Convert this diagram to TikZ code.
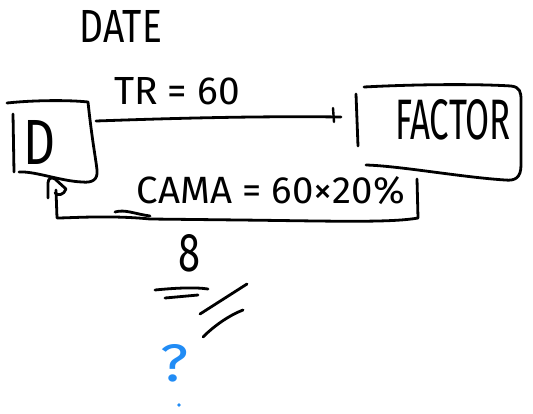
\documentclass[tikz,border=0pt]{standalone}
\usepackage{fontspec}
\setmainfont{Fira Sans}
\usepackage{graphicx}
\definecolor{inkblue}{RGB}{33,140,245}
\tikzset{
  pen/.style={line width=2.8pt, line cap=round, line join=round, black},
  word/.style={inner sep=0pt, anchor=center},
}
\begin{document}
\begin{tikzpicture}[x=1pt,y=-1pt]
\useasboundingbox (0,0) rectangle (533,413);

% heading
\node[word] (date) at (121,26) {\resizebox{82pt}{32pt}{DATE}};

% client box "D"
\node[word] (client) at (40,142) {\resizebox{32pt}{44pt}{D}};
\draw[pen] (7,103) .. controls (35,100) and (70,100) .. (88,102)
  .. controls (92,140) and (96,160) .. (97,170)
  .. controls (98,180) and (92,183) .. (82,182)
  .. controls (60,181) and (35,171) .. (19,172);
\draw[pen] (13,114) -- (14,172);

% factor box
\node[word] (factor) at (453,120) {\resizebox{116pt}{40pt}{FACTOR}};
\draw[pen] (364,87) .. controls (420,84) and (480,84) .. (511,86)
  .. controls (520,87) and (521,92) .. (521,100)
  -- (521,165)
  .. controls (521,178) and (515,181) .. (505,180)
  .. controls (460,177) and (400,166) .. (366,165);
\draw[pen] (356,94) -- (358,146);

% arrow from client to factor
\coordinate (out) at (96,121);
\coordinate (in) at (341,117);
\node[word] (tr) at (177,91) {\resizebox{126pt}{27pt}{TR = 60}};
\draw[pen] (out) .. controls (180,118) and (260,116) .. (in);
\draw[pen, line width=2.4pt] (333,108) -- (334,122);

% return loop back to the client box
\coordinate (back) at (417,179);
\coordinate (tip) at (52,178);
\node[word] (cash) at (271,191) {\resizebox{268pt}{27pt}{CAMA = 60×20\%}};
\draw[pen] (back) -- (418,218)
  .. controls (390,223) and (330,221) .. (240,220)
  -- (150,219)
  .. controls (110,215) and (70,218) .. (57,218)
  -- (56,190);
\draw[pen] (115,212) .. controls (125,209) and (135,214) .. (150,216);
\draw[pen] (48,198) -- (48,183) .. controls (48,178) and (52,177) .. (55,179)
  -- (66,189) .. controls (64,195) and (58,196) .. (55,193);

% result
\node[word] (eight) at (189,253) {\resizebox{22pt}{37pt}{8}};
\draw[pen] (155,290) .. controls (175,288) and (195,287) .. (208,289);
\draw[pen] (165,298) -- (198,295);
\draw[pen] (200,314) -- (247,284);
\draw[pen] (203,337) .. controls (215,325) and (230,315) .. (243,310);

% open question
\node[word, text=inkblue] (ask) at (174,363) {\resizebox{28pt}{37pt}{?}};
\fill[inkblue] (179,405) circle (1.8pt);
\end{tikzpicture}
\end{document}
